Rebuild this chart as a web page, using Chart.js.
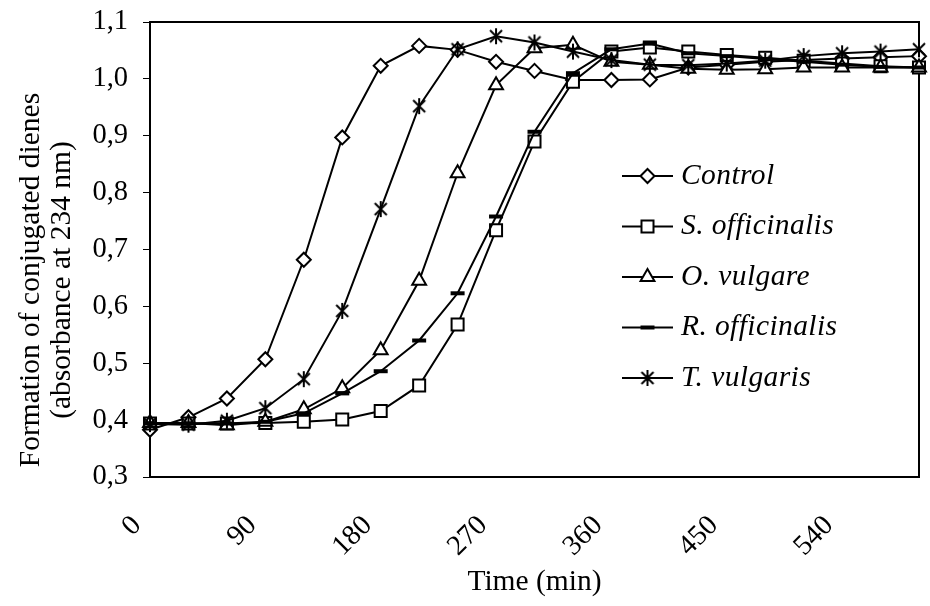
<!DOCTYPE html>
<html>
<head>
<meta charset="utf-8">
<title>Formation of conjugated dienes</title>
<script src="https://cdn.jsdelivr.net/npm/chart.js@4.4.1/dist/chart.umd.min.js"></script>
<style>
  html, body { margin: 0; padding: 0; background: #fff; }
  #wrap { width: 930px; height: 606px; }
</style>
</head>
<body>
<div id="wrap"><canvas id="dienesChart" width="930" height="606"></canvas></div>
<script>
// dados (tempo em min, absorbância a 234 nm)
const times = [0, 30, 60, 90, 120, 150, 180, 210, 240, 270, 300, 330, 360, 390, 420, 450, 480, 510, 540, 570, 600];
const control = [0.383, 0.405, 0.438, 0.507, 0.682, 0.897, 1.023, 1.058, 1.051, 1.030, 1.014, 0.998, 0.998, 0.999, 1.020, 1.025, 1.030, 1.033, 1.036, 1.038, 1.040];
const sOfficinalis = [0.394, 0.394, 0.394, 0.395, 0.397, 0.401, 0.416, 0.461, 0.568, 0.734, 0.890, 0.995, 1.048, 1.055, 1.048, 1.042, 1.037, 1.032, 1.027, 1.022, 1.020];
const oVulgare = [0.395, 0.395, 0.391, 0.397, 0.419, 0.456, 0.523, 0.645, 0.834, 0.989, 1.054, 1.060, 1.030, 1.025, 1.018, 1.016, 1.017, 1.020, 1.020, 1.020, 1.020];
const rOfficinalis = [0.394, 0.394, 0.394, 0.397, 0.412, 0.447, 0.486, 0.540, 0.623, 0.758, 0.907, 1.010, 1.052, 1.062, 1.045, 1.040, 1.035, 1.030, 1.025, 1.021, 1.020];
const tVulgaris = [0.393, 0.392, 0.399, 0.421, 0.472, 0.592, 0.771, 0.952, 1.052, 1.075, 1.064, 1.048, 1.033, 1.025, 1.024, 1.027, 1.032, 1.040, 1.045, 1.048, 1.052];
const xTicks = [0, 90, 180, 270, 360, 450, 540];
const yTicks = [0.3, 0.4, 0.5, 0.6, 0.7, 0.8, 0.9, 1.0, 1.1];
const seriesNames = ['Control', 'S. officinalis', 'O. vulgare', 'R. officinalis', 'T. vulgaris'];

const serif = "'Liberation Serif', 'Times New Roman', serif";

// marcador estrela (X + traço vertical) como no Excel
function makeStar() {
  const c = document.createElement('canvas');
  c.width = 18; c.height = 18;
  const g = c.getContext('2d');
  g.strokeStyle = '#000';
  g.lineWidth = 2;
  g.beginPath();
  g.moveTo(3, 3); g.lineTo(15, 15);
  g.moveTo(15, 3); g.lineTo(3, 15);
  g.moveTo(9, 1); g.lineTo(9, 17);
  g.stroke();
  return c;
}

function pts(values) {
  return values.map((v, i) => ({ x: times[i], y: v }));
}

function series(i, values, style, radius, bw, order) {
  return {
    label: seriesNames[i],
    data: pts(values),
    borderColor: '#000',
    borderWidth: 2,
    backgroundColor: '#fff',
    pointStyle: style,
    pointRadius: radius,
    pointBorderWidth: bw,
    pointBorderColor: '#000',
    pointBackgroundColor: '#fff',
    tension: 0,
    clip: false,
    order: order
  };
}

// moldura da área do gráfico
const frame = {
  id: 'frame',
  beforeDatasetsDraw(chart) {
    const { ctx, chartArea: a } = chart;
    ctx.save();
    ctx.strokeStyle = '#000';
    ctx.lineWidth = 2;
    ctx.strokeRect(a.left, a.top, a.right - a.left, a.bottom - a.top);
    ctx.restore();
  }
};

// título do eixo Y em duas linhas
const yTitle = {
  id: 'yTitle',
  afterDraw(chart) {
    const ctx = chart.ctx;
    ctx.save();
    ctx.fillStyle = '#000';
    ctx.font = '29.5px ' + serif;
    ctx.textAlign = 'center';
    ctx.textBaseline = 'middle';
    ctx.translate(0, 280);
    ctx.rotate(-Math.PI / 2);
    ctx.fillText('Formation of conjugated dienes', 0, 31);
    ctx.fillText('(absorbance at 234 nm)', 0, 62);
    ctx.restore();
  }
};

// legenda dentro da área do gráfico
const legendBox = { x1: 622, x2: 673, textX: 681, rows: [176, 226.5, 277, 327.5, 378] };
const insideLegend = {
  id: 'insideLegend',
  afterDatasetsDraw(chart) {
    const ctx = chart.ctx;
    chart.data.datasets.forEach((ds, i) => {
      const y = legendBox.rows[i];
      ctx.save();
      ctx.strokeStyle = '#000';
      ctx.lineWidth = 2;
      ctx.beginPath();
      ctx.moveTo(legendBox.x1, y);
      ctx.lineTo(legendBox.x2, y);
      ctx.stroke();
      ctx.fillStyle = '#fff';
      ctx.lineWidth = ds.pointBorderWidth;
      Chart.helpers.drawPoint(ctx, {
        pointStyle: ds.pointStyle,
        radius: ds.pointRadius,
        borderWidth: ds.pointBorderWidth,
        rotation: 0
      }, (legendBox.x1 + legendBox.x2) / 2, y);
      ctx.fillStyle = '#000';
      ctx.font = 'italic 29.5px ' + serif;
      ctx.letterSpacing = '0.4px';
      ctx.textAlign = 'left';
      ctx.textBaseline = 'middle';
      ctx.fillText(ds.label, legendBox.textX, y);
      ctx.restore();
    });
  }
};

const ctx = document.getElementById('dienesChart').getContext('2d');
new Chart(ctx, {
  type: 'line',
  data: {
    datasets: [
      series(0, control, 'rectRot', 7, 2, 5),
      series(1, sOfficinalis, 'rect', 8.5, 2, 4),
      series(2, oVulgare, 'triangle', 8, 2, 3),
      series(3, rOfficinalis, 'line', 7, 4, 2),
      series(4, tVulgaris, makeStar(), 9, 2, 1)
    ]
  },
  options: {
    responsive: false,
    animation: false,
    devicePixelRatio: 1,
    events: [],
    layout: { padding: { top: 22, right: 4, left: 0, bottom: 0 } },
    plugins: {
      legend: { display: false },
      tooltip: { enabled: false }
    },
    scales: {
      x: {
        type: 'linear',
        min: 0,
        max: 600,
        afterBuildTicks: (scale) => { scale.ticks = xTicks.map(v => ({ value: v })); },
        afterFit: (scale) => { scale.height = 129; },
        grid: { display: false },
        border: { display: false },
        ticks: {
          color: '#000',
          font: { family: serif, size: 28.5 },
          minRotation: 45,
          maxRotation: 45,
          padding: 24,
          labelOffset: -13
        },
        title: {
          display: true,
          text: 'Time (min)',
          color: '#000',
          font: { family: serif, size: 29.5 },
          padding: { top: 0, bottom: 6 }
        }
      },
      y: {
        min: 0.3,
        max: 1.1,
        afterBuildTicks: (scale) => { scale.ticks = yTicks.map(v => ({ value: v })); },
        afterFit: (scale) => {
          scale.width = 150;
          scale.paddingTop = 0;
          scale.paddingBottom = 0;
        },
        grid: {
          drawOnChartArea: false,
          drawTicks: true,
          tickLength: 7,
          color: '#000',
          lineWidth: 1
        },
        border: { display: false },
        ticks: {
          color: '#000',
          font: { family: serif, size: 28.5 },
          padding: 15,
          callback: (v) => v.toFixed(1).replace('.', ',')
        }
      }
    }
  },
  plugins: [frame, yTitle, insideLegend]
});
</script>
</body>
</html>
